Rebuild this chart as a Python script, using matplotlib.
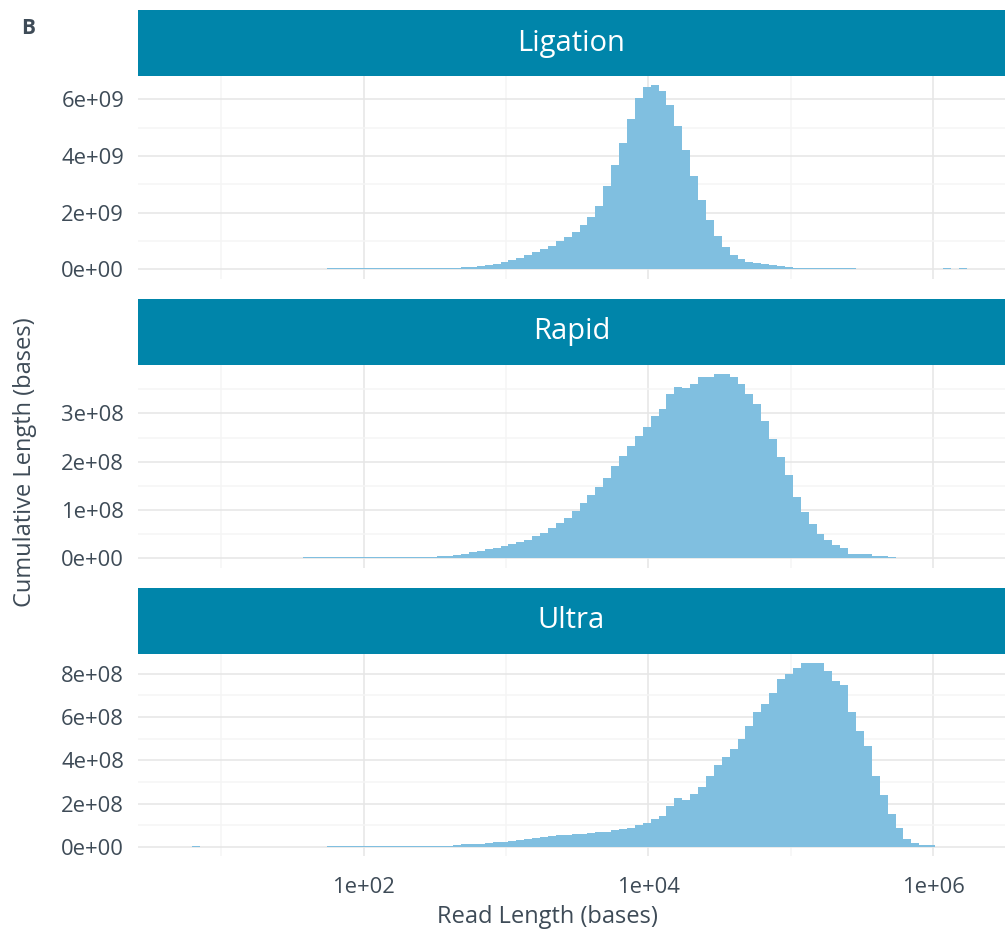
import matplotlib
matplotlib.use('Agg')
import matplotlib.pyplot as plt
from matplotlib.ticker import FixedLocator, FuncFormatter, NullFormatter
import numpy as np

plt.rcParams['font.family'] = ['Open Sans', 'DejaVu Sans']

# Bins del histograma (log10 de la longitud de lectura)
log_start = 0.6855
bin_width = 0.0555
n_bins = 100

panels = ['Ligation', 'Rapid', 'Ultra']

# Longitud acumulada por bin (Ligation en 1e9, Rapid y Ultra en 1e8)
ligation = [
    0.003, 0.003, 0.003, 0.003, 0.003, 0.003, 0.003, 0.003, 0.003, 0.003,
    0.003, 0.003, 0.003, 0.003, 0.003, 0.003, 0.003, 0.003, 0.003, 0.03,
    0.03, 0.03, 0.03, 0.03, 0.03, 0.03, 0.03, 0.03, 0.03, 0.03,
    0.03, 0.035, 0.035, 0.035, 0.035, 0.05, 0.08, 0.08, 0.11, 0.14,
    0.19, 0.26, 0.33, 0.40, 0.51, 0.61, 0.72, 0.82, 1.00, 1.14,
    1.32, 1.56, 1.85, 2.23, 2.94, 3.68, 4.46, 5.31, 6.04, 6.43,
    6.50, 6.29, 5.80, 5.06, 4.21, 3.29, 2.45, 1.74, 1.18, 0.79,
    0.51, 0.36, 0.26, 0.22, 0.19, 0.15, 0.12, 0.08, 0.05, 0.05,
    0.035, 0.035, 0.035, 0.035, 0.035, 0.035, 0.008, 0.008, 0.008, 0.008,
    0.008, 0.008, 0.008, 0.008, 0.008, 0.008, 0.008, 0.035, 0.005, 0.035,
]
rapid = [
    0.002, 0.002, 0.002, 0.002, 0.002, 0.002, 0.002, 0.002, 0.002, 0.002,
    0.002, 0.002, 0.002, 0.002, 0.002, 0.002, 0.025, 0.025, 0.025, 0.025,
    0.025, 0.025, 0.025, 0.025, 0.025, 0.025, 0.025, 0.025, 0.028, 0.028,
    0.028, 0.028, 0.028, 0.04, 0.052, 0.068, 0.089, 0.13, 0.15, 0.19,
    0.21, 0.25, 0.29, 0.34, 0.38, 0.46, 0.52, 0.62, 0.73, 0.83,
    0.97, 1.14, 1.30, 1.47, 1.67, 1.90, 2.12, 2.33, 2.53, 2.72,
    2.95, 3.09, 3.40, 3.54, 3.52, 3.60, 3.75, 3.75, 3.81, 3.81,
    3.75, 3.60, 3.40, 3.19, 2.84, 2.47, 2.10, 1.73, 1.26, 0.95,
    0.71, 0.50, 0.38, 0.27, 0.21, 0.089, 0.089, 0.089, 0.04, 0.04,
    0.028, 0.005, 0.005, 0.005, 0.005, 0.005, 0.005, 0.005, 0.005, 0.005,
]
ultra = [
    0.012, 0.003, 0.016, 0.003, 0.003, 0.003, 0.003, 0.003, 0.003, 0.003,
    0.003, 0.003, 0.003, 0.003, 0.003, 0.003, 0.003, 0.003, 0.003, 0.03,
    0.03, 0.03, 0.03, 0.03, 0.03, 0.03, 0.03, 0.03, 0.035, 0.035,
    0.035, 0.035, 0.035, 0.035, 0.025, 0.09, 0.14, 0.14, 0.14, 0.18,
    0.23, 0.23, 0.28, 0.32, 0.37, 0.41, 0.46, 0.51, 0.55, 0.55,
    0.60, 0.60, 0.65, 0.69, 0.69, 0.78, 0.83, 0.88, 1.01, 1.11,
    1.29, 1.43, 1.89, 2.26, 2.17, 2.44, 2.76, 3.27, 3.78, 4.15,
    4.52, 4.98, 5.58, 6.22, 6.59, 7.10, 7.74, 7.97, 8.25, 8.48,
    8.48, 8.48, 8.11, 7.65, 7.47, 6.22, 5.35, 4.65, 3.27, 2.40,
    1.52, 0.88, 0.37, 0.18, 0.09, 0.09, 0.01, 0.01, 0.01, 0.01,
]
scales = [1e9, 1e8, 1e8]

y_major = [[0, 2e9, 4e9, 6e9],
           [0, 1e8, 2e8, 3e8],
           [0, 2e8, 4e8, 6e8, 8e8]]
y_minor = [[1e9, 3e9, 5e9],
           [0.5e8, 1.5e8, 2.5e8, 3.5e8],
           [1e8, 3e8, 5e8, 7e8]]

x_major = [1e2, 1e4, 1e6]
x_minor = [1e1, 1e3, 1e5]
x_labels = ['1e+02', '1e+04', '1e+06']

strip_color = '#0085AA'
bar_color = '#80BFE0'
text_color = '#3E4B57'

W, H = 1008, 933
fig = plt.figure(figsize=(W / 100, H / 100), dpi=100)

edges = 10 ** (log_start + bin_width * np.arange(n_bins + 1))

# posiciones en pixeles: (top del strip, top del panel, bottom del panel)
rows = [(10, 76, 278.5), (299, 365, 567.5), (588, 654, 856)]
left, right = 138, 1005

for i, name in enumerate(panels):
    s_top, p_top, p_bot = rows[i]
    vals = np.array([ligation, rapid, ultra][i]) * scales[i]

    ax = fig.add_axes([left / W, 1 - p_bot / H, (right - left) / W, (p_bot - p_top) / H])
    ax.stairs(vals, edges, fill=True, color=bar_color, linewidth=0, zorder=2)
    ax.set_xscale('log')
    ax.set_xlim(10 ** 0.414, 10 ** 6.505)
    m = vals.max()
    ax.set_ylim(-0.05 * m, 1.05 * m)

    ax.xaxis.set_major_locator(FixedLocator(x_major))
    ax.xaxis.set_minor_locator(FixedLocator(x_minor))
    ax.xaxis.set_minor_formatter(NullFormatter())
    if i == 2:
        ax.set_xticklabels(x_labels)
    else:
        ax.set_xticklabels([])
    ax.yaxis.set_major_locator(FixedLocator(y_major[i]))
    ax.yaxis.set_minor_locator(FixedLocator(y_minor[i]))
    ax.yaxis.set_major_formatter(FuncFormatter(lambda v, p: f'{v:.0e}'))

    ax.grid(which='major', color='#E6E6E6', linewidth=1.1, zorder=0)
    ax.grid(which='minor', color='#F5F5F5', linewidth=1.1, zorder=0)
    ax.set_axisbelow(True)
    ax.tick_params(which='both', length=0, colors=text_color, labelsize=15.8)
    ax.tick_params(axis='y', pad=10)
    ax.tick_params(axis='x', pad=15)
    for sp in ax.spines.values():
        sp.set_visible(False)

    # strip con el nombre del panel
    sax = fig.add_axes([left / W, 1 - p_top / H, (right - left) / W, (p_top - s_top) / H])
    sax.set_facecolor(strip_color)
    sax.set_xticks([])
    sax.set_yticks([])
    for sp in sax.spines.values():
        sp.set_visible(False)
    sax.text(0.5, 0.5, name, color='white', fontsize=21, ha='center', va='center',
             transform=sax.transAxes)

fig.text(28 / W, 1 - 28 / H, 'B', fontsize=15, fontweight='bold', color=text_color,
         ha='center', va='center')
fig.text(547 / W, 1 - 917 / H, 'Read Length (bases)', fontsize=17, color=text_color,
         ha='center', va='center')
fig.text(25 / W, 1 - 462 / H, 'Cumulative Length (bases)', fontsize=17, color=text_color,
         ha='center', va='center', rotation=90)

fig.savefig('out.png', dpi=100)
